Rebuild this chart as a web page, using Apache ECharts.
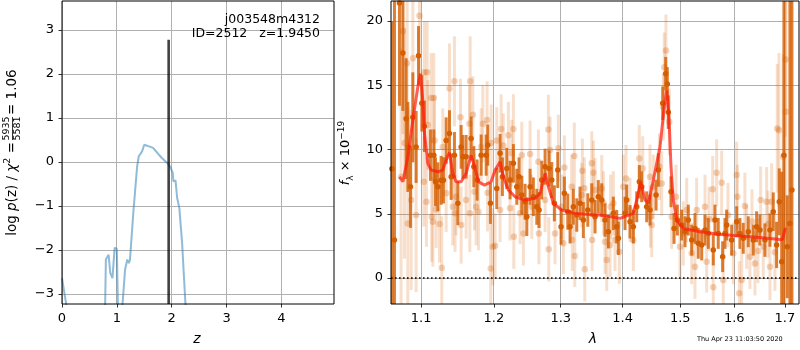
<!DOCTYPE html>
<html>
<head>
<meta charset="utf-8">
<script src="https://cdn.jsdelivr.net/npm/echarts@6/dist/echarts.min.js"></script>
<style>
  html, body { margin: 0; padding: 0; background: #fff; }
  #chart { width: 800px; height: 350px; }
</style>
</head>
<body>
<div id="chart"></div>
<script>
// ---- left panel: log p(z) ----
const zGrid = [0, 0.03, 0.085, 0.12, 0.3, 0.6, 0.75, 0.785, 0.80, 0.85, 0.88, 0.92, 0.96, 1.0,
  1.02, 1.05, 1.08, 1.10, 1.15, 1.19, 1.22, 1.24, 1.30, 1.37, 1.40, 1.46, 1.50, 1.55, 1.58,
  1.66, 1.73, 1.82, 1.91, 1.97, 2.02, 2.03, 2.07, 2.10, 2.14, 2.19, 2.25, 2.28, 2.5, 3.0, 4.0, 4.96];
const logPz = [-2.64, -2.66, -3.3, -4.5, -8, -8, -5, -3.4, -2.22, -2.11, -2.52, -2.64, -1.95, -1.98,
  -3.3, -5, -4.0, -3.3, -2.45, -2.22, -2.3, -2.22, -1.16, -0.1, 0.13, 0.24, 0.39, 0.37, 0.33,
  0.32, 0.22, 0.09, -0.01, -0.1, -0.25, -0.44, -0.42, -0.82, -1.05, -1.84, -3.2, -3.6, -8, -10, -12, -14];
const zBest = 1.945;
const zMarkTop = 2.78;
const zTicks = [0, 1, 2, 3, 4];
const pzTicks = [-3, -2, -1, 0, 1, 2, 3];

// ---- right panel: spectrum ----
// solid points (one extraction)
const darkWave = [
  1.0621, 1.0654, 1.0718, 1.0762, 1.0804, 1.0826, 1.0860, 1.0891, 1.0934, 1.0965,
  1.1009, 1.1043, 1.1123, 1.1168, 1.1190, 1.1222, 1.1266, 1.1297, 1.1334, 1.1379,
  1.1402, 1.1447, 1.1494, 1.1539, 1.1563, 1.1608, 1.1678, 1.1716, 1.1762, 1.1819,
  1.1890, 1.1913, 1.1951,
  1.2042, 1.2090, 1.2123, 1.2187, 1.2235, 1.2284, 1.2334, 1.2368, 1.2408, 1.2457,
  1.2483, 1.2532, 1.2581, 1.2633, 1.2667, 1.2708, 1.2759, 1.2820, 1.2861, 1.2901,
  1.2954, 1.3005, 1.3057, 1.3110, 1.3146, 1.3198, 1.3252, 1.3304, 1.3357, 1.3428,
  1.3492, 1.3545, 1.3598,
  1.3654, 1.3708, 1.3762, 1.3845, 1.3901, 1.3928, 1.4040, 1.4068, 1.4124, 1.4180,
  1.4238, 1.4282, 1.4323, 1.4409, 1.4466, 1.4571, 1.4611, 1.4688, 1.4740, 1.4769,
  1.4786, 1.4834, 1.4888, 1.4947, 1.5025, 1.5085, 1.5144, 1.5206, 1.5266, 1.5326,
  1.5389, 1.5450, 1.5511, 1.5604, 1.5636, 1.5697, 1.5780, 1.5824, 1.5856, 1.5951,
  1.6047, 1.6110, 1.6174, 1.6271, 1.6369, 1.6435, 1.6500, 1.6599, 1.6699, 1.6765,
  1.6833, 1.6886, 1.6935, 1.6981, 1.7048, 1.7103, 1.7144];
const darkFlux = [
  8.5, 2.95, 21.4, 17.5, 12.4, 10.2, 7.1, 12.5, 10.2, 17.3,
  13.6, 11.8, 9.56, 9.56, 7.49, 7.1, 7.6, 7.6, 10.7, 11.25,
  7.88, 9.56, 5.81, 10.2, 9.43, 9.43, 10.86, 8.66, 7.62, 9.56,
  9.56, 10.34, 5.81,
  6.97, 9.7, 7.88, 8.53, 7.62, 8.92, 7.1, 7.88, 6.45, 5.93,
  4.77, 7.1, 6.32, 5.54, 5.29, 7.62, 8.66, 8.53, 7.62, 5.81,
  8.4, 3.99, 6.59, 5.16, 3.99, 5.54, 4.9, 5.81, 4.51, 5.29,
  6.07, 4.77, 6.32,
  6.07, 4.51, 3.6, 5.03, 3.99, 3.09, 5.03, 6.07, 4.38, 3.99,
  5.54, 7.49, 7.1, 5.54, 5.29, 6.45, 8.4, 13.6, 15.9, 15.1,
  12.9, 6.71, 3.86, 4.51, 4.12, 3.6, 4.51, 2.95, 3.86, 2.7,
  2.57, 3.73, 3.47, 2.18, 4.51, 3.47, 1.66, 3.47, 4.12, 2.95,
  4.38, 3.47, 3.09, 3.6, 2.95, 3.99, 3.73, 2.95, 3.73, 5.16,
  2.57, 5.93, 1.27, 9.56, 2.43, 4.25, 6.84];
const darkErr = [
  11.5, 26, 8, 4.5, 4.7, 3.5, 3.2, 3.5, 2.8, 2.3,
  2.2, 2.0, 2.0, 2.0, 1.9, 1.9, 1.9, 1.8, 1.8, 1.8,
  1.8, 1.8, 1.7, 1.7, 1.7, 1.7, 1.7, 1.6, 1.6, 1.6,
  1.6, 1.6, 1.6,
  1.6, 1.5, 1.5, 1.6, 1.5, 1.5, 1.4, 1.5, 1.5, 1.4,
  1.5, 1.4, 1.5, 1.4, 1.4, 1.5, 1.4, 1.4, 1.4, 1.4,
  1.4, 1.4, 1.3, 1.4, 1.3, 1.4, 1.3, 1.3, 1.4, 1.3,
  1.3, 1.3, 1.3,
  1.3, 1.3, 1.3, 1.3, 1.3, 1.3, 1.3, 1.2, 1.3, 1.3,
  1.2, 1.3, 1.2, 1.2, 1.2, 1.2, 1.3, 1.3, 1.3, 1.3,
  1.3, 1.2, 1.2, 1.2, 1.2, 1.2, 1.2, 1.2, 1.2, 1.2,
  1.2, 1.2, 1.2, 1.2, 1.2, 1.2, 1.2, 1.2, 1.2, 1.2,
  1.2, 1.2, 1.2, 1.2, 1.2, 1.2, 1.2, 1.3, 1.3, 1.5,
  1.8, 2.6, 7, 15, 4, 25, 20];

// faint points (second extraction)
const lightWave = [
  1.0739, 1.0762, 1.0783, 1.0817, 1.0826, 1.0869, 1.0891, 1.0934, 1.0978, 1.1035,
  1.1043, 1.1070, 1.1079, 1.1088, 1.1132, 1.1140, 1.1155, 1.1168, 1.1177, 1.1199,
  1.1244, 1.1275, 1.1289, 1.1334, 1.1379, 1.1424, 1.1447, 1.1455, 1.1469, 1.1530,
  1.1539, 1.1608, 1.1655, 1.1660, 1.1664, 1.1702, 1.1725, 1.1748, 1.1781, 1.1819,
  1.1843, 1.1903, 1.1910, 1.1955, 1.1961, 1.1985, 1.2018, 1.2042, 1.2090, 1.2105,
  1.2137, 1.2211, 1.2235, 1.2260, 1.2284, 1.2290, 1.2383, 1.2408, 1.2432, 1.2532,
  1.2557, 1.2657, 1.2665, 1.2759, 1.2809, 1.2815, 1.2835, 1.2912, 1.2963, 1.3015,
  1.3041, 1.3057, 1.3172, 1.3180, 1.3213, 1.3220, 1.3331, 1.3341, 1.3373, 1.3380,
  1.3492, 1.3498, 1.3518, 1.3545, 1.3654, 1.3681, 1.3708, 1.3736, 1.3790, 1.3800,
  1.3845, 1.3873, 1.3945, 1.4011, 1.4057, 1.4124, 1.4180, 1.4282, 1.4340, 1.4466,
  1.4475, 1.4496, 1.4524, 1.4628, 1.4670, 1.4697, 1.4715, 1.4745, 1.4804, 1.4846,
  1.4923, 1.4994, 1.5054, 1.5115, 1.5206, 1.5266, 1.5297, 1.5450, 1.5481, 1.5524,
  1.5593, 1.5604, 1.5667, 1.5761, 1.5791, 1.5881, 1.5982, 1.6047, 1.6060, 1.6097,
  1.6143, 1.6206, 1.6240, 1.6304, 1.6344, 1.6402, 1.6461, 1.6514, 1.6566, 1.6633,
  1.6660, 1.6699, 1.6733, 1.6799, 1.6845, 1.6880, 1.6966, 1.7015, 1.7021];
const lightFlux = [
  7.88, 19.2, 10.5, 16.7, 4.25, 6.07, 17.1, 4.9, 20.4, 7.49,
  16.0, 5.93, 16.0, 11.9, 14.0, 4.77, 4.38, 14.0, 10.7, 5.34,
  4.2, 0.8, 10.2, 6.59, 14.75, 5.54, 15.3, 5.03, 6.32, 12.5,
  4.12, 6.07, 12.0, 5.03, 15.3, 12.7, 6.71, 5.54, 5.16, 10.2,
  12.0, 12.3, 6.63, 0.75, 10.5, 2.43, 2.51, 10.7, 5.29, 11.6,
  10.3, 11.1, 5.42, 9.7, 11.6, 3.21, 5.03, 9.56, 3.47, 9.64,
  5.54, 9.04, 3.47, 6.07, 11.56, 2.23, 9.95, 3.47, 10.1, 5.54,
  2.7, 8.6, 7.1, 2.95, 9.49, 1.71, 6.45, 8.35, 6.98, 0.68,
  8.92, 2.95, 8.19, 6.84, 6.97, 5.81, 2.82, 1.4, 2.57, 5.54,
  5.81, 2.95, 2.05, 7.1, 7.75, 5.3, 2.95, 9.3, 8.53, 7.88,
  4.77, 4.12, 7.1, 8.66, 7.36, 13.3, 16.4, 17.7, 12.15, 4.77,
  6.32, 2.43, 3.47, 5.29, 1.92, 0.88, 5.29, 5.54, 1.27, 4.6,
  6.9, -0.72, 8.19, 7.41, -0.16, 4.9, 1.92, 8.01, 6.32, -1.19,
  -0.16, 5.6, 3.21, 1.66, 4.4, 1.14, 2.1, 6.07, 2.43, 5.93,
  4.2, 0.88, 5.93, 2.0, 11.64, 11.5, 9.43, 17.0, 12.93];
const lightErr = [
  10, 8, 9, 8, 9, 7, 5, 6, 5, 3.5,
  4, 3.5, 4, 3.5, 3.5, 3.5, 3.5, 3.5, 3.5, 3.0,
  3.0, 4.0, 3.0, 3.0, 3.5, 3.0, 3.5, 3.0, 3.0, 3.0,
  3.0, 3.0, 3.0, 3.0, 3.5, 3.0, 3.0, 3.0, 3.0, 3.0,
  3.0, 3.0, 3.0, 3.5, 3.0, 3.0, 2.5, 2.6, 2.5, 2.7,
  2.5, 2.6, 2.5, 2.6, 2.7, 2.5, 2.4, 2.6, 2.5, 2.6,
  2.5, 2.5, 2.4, 2.5, 2.7, 2.5, 2.6, 2.4, 2.6, 2.5,
  2.4, 2.5, 2.5, 2.4, 2.6, 2.4, 2.5, 2.5, 2.4, 2.5,
  2.5, 2.4, 2.5, 2.5, 2.6, 2.5, 2.5, 2.4, 2.5, 2.5,
  2.5, 2.4, 2.5, 2.5, 2.6, 2.5, 2.4, 2.6, 2.5, 2.5,
  2.4, 2.5, 2.5, 2.6, 2.5, 2.6, 2.7, 2.8, 2.6, 2.5,
  2.5, 2.4, 2.5, 2.5, 2.4, 2.5, 2.5, 2.5, 2.4, 2.5,
  2.6, 2.5, 2.6, 2.5, 2.5, 2.5, 2.4, 2.6, 2.5, 2.5,
  2.5, 2.6, 2.5, 2.5, 2.5, 2.5, 2.5, 2.6, 2.5, 2.7,
  2.6, 2.6, 3.0, 3.0, 5, 6, 8, 6, 10];

// best-fit template
const modelWave = [
  1.0718, 1.0762, 1.0826, 1.0891, 1.0957, 1.0991, 1.1022, 1.1043, 1.1088, 1.1132,
  1.1222, 1.1289, 1.1334, 1.1379, 1.1424, 1.1469, 1.1539, 1.1608, 1.1678, 1.1725,
  1.1781, 1.1866, 1.1961, 1.2018, 1.2090, 1.2137, 1.2211, 1.2309, 1.2457, 1.2607,
  1.2683, 1.2759, 1.2809, 1.2886, 1.3015, 1.3225, 1.3545, 1.3627, 1.3956, 1.4180,
  1.4238, 1.4306, 1.4380, 1.4437, 1.4524, 1.4640, 1.4715, 1.4758, 1.4798, 1.4834,
  1.4875, 1.4936, 1.5054, 1.5357, 1.5700, 1.6000, 1.6500, 1.6900, 1.6950, 1.7010];
const modelFlux = [
  7.88, 7.49, 9.43, 12.3, 14.9, 15.9, 13.8, 11.3, 8.9, 8.4,
  8.27, 8.4, 9.18, 9.75, 8.14, 7.49, 7.49, 8.14, 9.56, 8.66,
  7.49, 7.23, 7.49, 8.4, 9.05, 7.88, 6.84, 6.32, 6.07, 6.2,
  6.59, 8.14, 7.1, 5.81, 5.29, 5.03, 4.9, 4.9, 4.64, 5.03,
  6.07, 7.49, 6.07, 5.81, 7.62, 10.2, 13.3, 14.6, 12.5, 8.66,
  6.07, 4.51, 3.86, 3.6, 3.4, 3.3, 3.15, 3.0, 3.0, 3.9];

const waveTicks = [1.1, 1.2, 1.3, 1.4, 1.5, 1.6, 1.7];
const fluxTicks = [0, 5, 10, 15, 20];

// axis limits
const zRange = [0, 4.96];
const pzRange = [-3.23, 3.66];
const waveRange = [1.061, 1.729];
const fluxRange = [-2.02, 21.55];

const FONT = 'DejaVu Sans';
const ORANGE = '#d55e00';
const GRIDC = '#b0b0b0';

let chart = echarts.init(document.getElementById('chart'));

function pairs(xs, ys) { return xs.map((x, i) => [x, ys[i]]); }
function triples(xs, ys, es) { return xs.map((x, i) => [x, ys[i], es[i]]); }
const minus = v => String(v).replace('-', '\u2212');

function errorBars(wave, flux, err, opacity) {
  return {
    type: 'custom', xAxisIndex: 1, yAxisIndex: 1, clip: true, silent: true, z: 3,
    data: triples(wave, flux, err),
    encode: { x: 0, y: 1 },
    renderItem: (params, api) => {
      const x = api.value(0), y = api.value(1), e = api.value(2);
      const a = api.coord([x, y - e]), b = api.coord([x, y + e]);
      return {
        type: 'line',
        shape: { x1: a[0], y1: a[1], x2: b[0], y2: b[1] },
        style: { stroke: ORANGE, lineWidth: 3, opacity: opacity }
      };
    }
  };
}

function axisBase(ticks, fmt) {
  return {
    axisLine: { show: false, onZero: false },
    axisTick: { customValues: ticks, length: 3.5, lineStyle: { color: '#000', width: 0.8 } },
    axisLabel: { customValues: ticks, color: '#000', fontSize: 13, fontFamily: FONT, formatter: fmt },
    splitLine: { show: true, lineStyle: { color: GRIDC, width: 1 } }
  };
}

chart.setOption({
  animation: false,
  grid: [
    { left: 62, top: 1, width: 272, height: 303 },
    { left: 391, top: 1, width: 408, height: 303 }
  ],
  xAxis: [
    Object.assign(axisBase(zTicks, v => String(v)), {
      gridIndex: 0, type: 'value', min: zRange[0], max: zRange[1], minInterval: 1, maxInterval: 1,
      splitLine: { show: false }
    }),
    Object.assign(axisBase(waveTicks, v => v.toFixed(1)), {
      gridIndex: 1, type: 'log', logBase: 10, min: waveRange[0], max: waveRange[1],
      splitLine: { show: false }
    })
  ],
  yAxis: [
    Object.assign(axisBase(pzTicks, minus), {
      gridIndex: 0, type: 'value', min: pzRange[0], max: pzRange[1], minInterval: 1, maxInterval: 1
    }),
    Object.assign(axisBase(fluxTicks, minus), {
      gridIndex: 1, type: 'value', min: fluxRange[0], max: fluxRange[1], minInterval: 5, maxInterval: 5
    })
  ],
  series: [
    {
      type: 'line', xAxisIndex: 0, yAxisIndex: 0, data: pairs(zGrid, logPz),
      symbol: 'none', clip: true, silent: true, z: 2,
      lineStyle: { color: '#1f77b4', width: 2, opacity: 0.5 }
    },
    {
      type: 'line', xAxisIndex: 0, yAxisIndex: 0, data: [[zBest, pzRange[0]], [zBest, zMarkTop]],
      symbol: 'none', clip: true, silent: true, z: 2,
      lineStyle: { color: '#000', width: 2.6, opacity: 0.75 }
    },
    errorBars(lightWave, lightFlux, lightErr, 0.2),
    {
      type: 'scatter', xAxisIndex: 1, yAxisIndex: 1, data: pairs(lightWave, lightFlux),
      symbolSize: 6.5, z: 3, silent: true,
      itemStyle: { color: ORANGE, opacity: 0.28 }
    },
    errorBars(darkWave, darkFlux, darkErr, 0.8),
    {
      type: 'scatter', xAxisIndex: 1, yAxisIndex: 1, data: pairs(darkWave, darkFlux),
      symbolSize: 5.5, z: 4, silent: true,
      itemStyle: { color: ORANGE, opacity: 1 }
    },
    {
      type: 'line', xAxisIndex: 1, yAxisIndex: 1, data: pairs(modelWave, modelFlux),
      symbol: 'none', clip: true, z: 5, silent: true,
      lineStyle: { color: '#ff1a0d', width: 3, opacity: 0.7 },
      markLine: {
        silent: true, symbol: 'none', label: { show: false },
        data: [{ yAxis: 0 }],
        lineStyle: { color: '#000', width: 1.6, type: [1.6, 2.4], opacity: 1 }
      }
    }
  ]
});

// vertical grid lines: positions come from the axes once they exist
function vGrid(ticks, idx, yRange) {
  const yA = chart.convertToPixel({ yAxisIndex: idx }, yRange[0]);
  const yB = chart.convertToPixel({ yAxisIndex: idx }, yRange[1]);
  return ticks.map(t => {
    const px = Math.round(chart.convertToPixel({ xAxisIndex: idx }, t) - 0.5) + 0.5;
    return { type: 'line', z: 1, silent: true,
      shape: { x1: px, y1: yA, x2: px, y2: yB },
      style: { stroke: GRIDC, lineWidth: 1 } };
  });
}

chart.setOption({
  graphic: [
    ...vGrid(zTicks, 0, pzRange),
    ...vGrid(waveTicks, 1, fluxRange),
    { type: 'rect', z: 100, silent: true, shape: { x: 62, y: 1, width: 272, height: 303 },
      style: { fill: 'none', stroke: '#000', lineWidth: 1 } },
    { type: 'rect', z: 100, silent: true, shape: { x: 391, y: 1, width: 408, height: 303 },
      style: { fill: 'none', stroke: '#000', lineWidth: 1 } },
    { type: 'text', x: 320, y: 20, z: 100,
      style: { text: 'j003548m4312', align: 'right', verticalAlign: 'middle', fontSize: 12.5, fontFamily: FONT, fill: '#000' } },
    { type: 'text', x: 320, y: 34, z: 100,
      style: { text: 'ID=2512   z=1.9450', align: 'right', verticalAlign: 'middle', fontSize: 12.5, fontFamily: FONT, fill: '#000' } },
    { type: 'text', x: 197, y: 339,
      style: { text: 'z', align: 'center', verticalAlign: 'middle', fontSize: 14, fontStyle: 'italic', fontFamily: FONT, fill: '#000' } },
    { type: 'text', x: 593, y: 339,
      style: { text: 'λ', align: 'center', verticalAlign: 'middle', fontSize: 14, fontStyle: 'italic', fontFamily: FONT, fill: '#000' } },
    { type: 'text', x: 697, y: 339,
      style: { text: 'Thu Apr 23 11:03:50 2020', align: 'left', verticalAlign: 'middle', fontSize: 6.5, fontFamily: FONT, fill: '#000' } },
    {
      type: 'group', x: 12, y: 240, rotation: Math.PI / 2,
      children: [
        { type: 'text', x: 98, y: 0,
          style: { text: 'log {i|p}(z) / {i|χ}{s|2} =', align: 'right', verticalAlign: 'middle',
            fontSize: 13.5, fontFamily: FONT, fill: '#000', lineHeight: 18,
            rich: { i: { fontStyle: 'italic', fontSize: 13.5, fontFamily: FONT, lineHeight: 18 },
                    s: { fontSize: 9.5, fontFamily: FONT, verticalAlign: 'top', lineHeight: 18 } } } },
        { type: 'text', x: 111.5, y: -5, style: { text: '5935', align: 'center', verticalAlign: 'middle', fontSize: 9.5, fontFamily: FONT, fill: '#000' } },
        { type: 'line', shape: { x1: 100, y1: 0.5, x2: 123, y2: 0.5 }, style: { stroke: '#000', lineWidth: 0.8 } },
        { type: 'text', x: 111.5, y: 6, style: { text: '5581', align: 'center', verticalAlign: 'middle', fontSize: 9.5, fontFamily: FONT, fill: '#000' } },
        { type: 'text', x: 125, y: 0, style: { text: '= 1.06', align: 'left', verticalAlign: 'middle', fontSize: 13.5, fontFamily: FONT, fill: '#000' } }
      ]
    },
    {
      type: 'group', x: 346, y: 153, rotation: Math.PI / 2,
      children: [
        { type: 'text', x: 0, y: 0,
          style: { text: '{i|f}{b|λ} × 10{t|−19}', align: 'center', verticalAlign: 'middle',
            fontSize: 13, fontFamily: FONT, fill: '#000', lineHeight: 18,
            rich: { i: { fontStyle: 'italic', fontSize: 13, fontFamily: FONT, lineHeight: 18 },
                    b: { fontSize: 9, fontFamily: FONT, verticalAlign: 'bottom', lineHeight: 18 },
                    t: { fontSize: 9, fontFamily: FONT, verticalAlign: 'top', lineHeight: 18 } } } }
      ]
    }
  ]
});
</script>
</body>
</html>
